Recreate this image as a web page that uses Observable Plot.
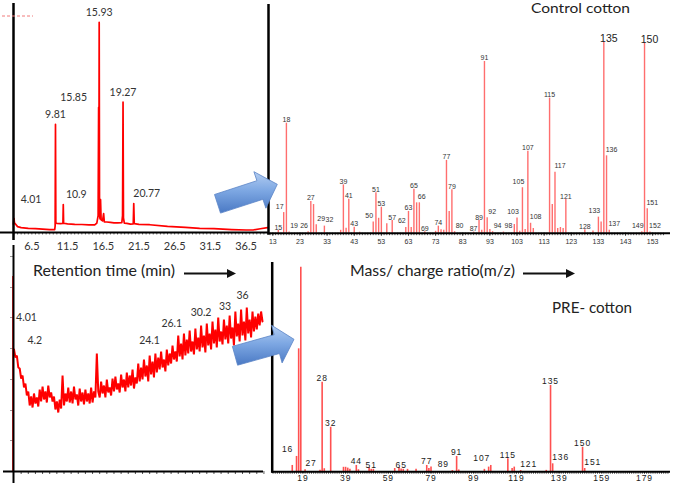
<!DOCTYPE html>
<html>
<head>
<meta charset="utf-8">
<script src="https://cdn.jsdelivr.net/npm/d3@7"></script>
<script src="https://cdn.jsdelivr.net/npm/@observablehq/plot@0.6"></script>
<style>
  body { margin: 0; background: #fff; }
  #wrap { position: relative; width: 685px; height: 487px; overflow: hidden; background: #fff; }
</style>
</head>
<body>
<div id="wrap"></div>
<script>
// ================= DATA =================
// Control cotton – chromatogram (retention time in min, relative abundance %)
const controlTraceTime = [3.93,3.97,4.01,4.06,4.5,5,6,7,8,9,9.7,9.76,9.81,9.86,10,10.5,10.85,10.9,10.95,11.5,12.5,13.5,14.5,15.3,15.6,15.78,15.85,15.89,15.93,15.98,16.05,16.12,16.2,16.4,16.55,16.65,17,17.5,18,18.5,19.1,19.2,19.27,19.33,19.45,19.8,20.3,20.7,20.77,20.84,21.5,23,25.5,28,30,32,34.5,36.5,37.5,38.5,39.5];
const controlTraceValue = [4.0,6.2,6.6,4.6,2.8,2.3,2.0,1.8,1.6,1.4,1.4,3.0,51.4,4.6,4.3,4.2,4.3,13.3,4.4,4.1,3.9,3.8,3.6,3.6,4.5,8.0,59.5,20.0,100,8.0,6.5,15.6,6.0,5.5,9.0,5.0,5.0,4.8,4.6,4.6,4.7,8.0,62.0,7.0,4.5,4.3,4.0,4.1,13.8,4.2,3.9,3.7,2.9,2.4,2.0,1.8,1.4,1.2,1.2,1.8,2.3];
const controlPeakTime = [4.01, 9.81, 10.9, 15.85, 15.93, 19.27, 20.77];
const controlPeakValue = [6.6, 51.4, 13.3, 59.5, 100, 62.0, 13.8];
const retentionTicks = [6.5, 11.5, 16.5, 21.5, 26.5, 31.5, 36.5];

// PRE-cotton – chromatogram (sampled every 0.2 min from 4.0 min, abundance)
const preTraceStart = 4.0;
const preTraceStep = 0.2;
const preTraceValue = [
  122,114,116,104,103,93,96,84,88,76,
  80,66,75,64,78,68,74,65,82,70,
  85,72,80,69,86,74,79,70,75,62,
  70,59,72,63,96,66,78,70,84,69,
  80,68,85,72,77,66,83,70,79,67,
  82,70,78,68,84,69,80,74,118,80,
  74,90,78,86,74,92,79,84,76,93,
  80,95,82,88,79,97,84,92,80,99,
  84,96,86,102,83,94,88,108,90,104,
  92,112,95,106,90,116,97,110,94,118,
  99,114,102,120,104,112,100,122,106,118,
  108,126,112,120,110,136,115,128,112,138,
  116,132,118,141,120,130,117,143,122,134,
  120,146,124,136,119,148,126,138,122,150,
  128,142,124,154,130,140,127,152,132,146,
  128,156,133,144,126,160,135,148,130,162,
  136,150,131,164,138,152,134,160,140,155,
  142,158,146,160,150
];
const preInjectionTime = [3.85];
const preInjectionValue = [204];
const preLabelTime = [4.01, 4.2, 24.1, 26.1, 30.2, 33, 36];
const preLabelValue = [153.5, 131, 131, 148, 159, 165, 176];

// Control cotton – mass spectrum (m/z, relative intensity %)
const controlMz = [15,17,18,19,26,27,28,29,32,38,39,40,41,43,45,50,51,52,53,55,57,62,63,64,65,66,67,69,73,74,75,76,77,78,79,80,87,89,90,91,92,93,94,98,102,103,104,105,106,107,108,109,115,116,117,118,119,120,121,128,131,133,134,135,136,137,149,150,151,152];
const controlInt = [1.4,10.8,57.6,0.6,0.8,16.6,15.0,4.4,3.7,1.5,25.3,2.6,17.8,3.1,0.5,5.8,21.2,7.8,13.6,5.0,6.6,3.0,11.4,3.0,23.0,15.9,15.9,0.8,1.0,3.7,1.8,1.5,38.1,11.4,22.7,0.8,0.6,6.6,1.5,89.9,8.1,2.0,0.8,0.6,4.6,7.9,1.0,23.8,2.0,42.9,5.2,2.5,70.7,15.0,31.9,2.5,3.0,2.5,17.6,1.8,1.2,8.4,5.8,100,40.5,1.5,0.8,99.5,12.8,0.6];
const controlLabelMz = [15,18,27,39,41,43,51,53,57,63,65,69,74,77,79,87,89,91,107,115,121,128];
const controlLabelMzLeft = [17,26,50,62,103,105,133,149];
const controlLabelMzRight = [19,29,32,66,80,92,94,98,108,117,136,137,151,152];
const controlLabelMzMajor = [135,150];
const controlTicks = [13,23,33,43,53,63,73,83,93,103,113,123,133,143,153];

// PRE-cotton – mass spectrum
const preMz = [14,16,17,18,20,27,28,29,32,38,39,40,41,44,45,50,51,52,62,64,65,66,68,72,77,78,79,89,91,92,104,106,107,115,117,118,121,133,135,136,150,151];
const preInt = [3.1,7.5,60.1,100,1.0,0.8,43.8,1.5,21.8,2.2,2.2,1.8,1.3,3.1,1.0,2.1,1.2,1.2,1.6,2.1,1.4,1.2,1.2,1.2,3.1,1.6,2.3,0.6,7.5,0.9,1.2,2.3,3.1,6.4,1.6,2.3,0.6,0.7,42.2,3.9,12.0,1.6];
const preLabelMz = [28,32,44,51,65,77,91,115,135,150];
const preLabelMzLeft = [16,27,89,107];
const preLabelMzRight = [121,136,151];
const preTicks = [19,39,59,79,99,119,139,159,179];

// ================= BUILD =================
const wrap = document.getElementById("wrap");
function place(svg, left, top, extra) {
  svg.style.position = "absolute";
  svg.style.left = left + "px";
  svg.style.top = top + "px";
  svg.style.background = "transparent";
  svg.style.overflow = "visible";
  svg.style.maxWidth = "none";
  if (extra) Object.assign(svg.style, extra);
  wrap.appendChild(svg);
}
const RED = "#ff0000";
const CHROM_FONT = "Lato, 'Open Sans', sans-serif";
const MS_FONT = "'Liberation Sans', Arial, sans-serif";

const controlTrace = controlTraceTime.map((t, i) => ({t, v: controlTraceValue[i]}));
const controlPeaks = controlPeakTime.map((t, i) => ({t, v: controlPeakValue[i], label: String(t)}));
const preTrace = preTraceValue.map((v, i) => ({t: preTraceStart + i * preTraceStep, v}));
const preLabels = preLabelTime.map((t, i) => ({t, v: preLabelValue[i], label: String(t)}));
const controlBars = controlMz.map((mz, i) => ({mz, v: controlInt[i]}));
const preBars = preMz.map((mz, i) => ({mz, v: preInt[i]}));
const cMap = new Map(controlBars.map(d => [d.mz, d.v]));
const pMap = new Map(preBars.map(d => [d.mz, d.v]));
const lab = (list, map) => list.map(mz => ({mz, v: map.get(mz), label: String(mz)}));

// ---- Top-left: control chromatogram ----
const pA = Plot.plot({
  width: 270, height: 255,
  marginLeft: 13, marginRight: 2, marginTop: 5, marginBottom: 23,
  x: {domain: [3.93, 39.64]},
  y: {domain: [0, 108], axis: null},
  marks: [
    Plot.axisX(d3.range(4, 39.6, 0.5), {tickSize: 2.5, tickFormat: () => "", stroke: "#666", label: null}),
    Plot.axisX(retentionTicks, {tickSize: 0, tickPadding: 10, fontSize: 11, fontFamily: CHROM_FONT, fill: "#333", label: null, tickFormat: d => String(d)}),
    Plot.line(controlTrace, {x: "t", y: "v", stroke: RED, strokeWidth: 1.7}),
    Plot.ruleY([0], {stroke: "black", strokeWidth: 2, insetLeft: -13}),
    Plot.ruleX([3.93], {stroke: "black", strokeWidth: 2.5, insetTop: -2, insetBottom: -8}),
    Plot.text(controlPeaks.filter(d => [9.81, 15.93, 19.27].includes(d.t)), {x: "t", y: "v", text: "label", dy: -10, fontSize: 10.5, fontFamily: CHROM_FONT, fill: "#333"}),
    Plot.text(controlPeaks.filter(d => [10.9, 20.77].includes(d.t)), {x: "t", y: "v", text: "label", dx: 13, dy: -10, fontSize: 10.5, fontFamily: CHROM_FONT, fill: "#333"}),
    Plot.text(controlPeaks.filter(d => d.t === 4.01), {x: "t", y: "v", text: "label", dx: 17, dy: -19, fontSize: 10.5, fontFamily: CHROM_FONT, fill: "#333"}),
    Plot.text(controlPeaks.filter(d => d.t === 15.85), {x: "t", y: "v", text: "label", dx: -25, dy: -10, fontSize: 10.5, fontFamily: CHROM_FONT, fill: "#333"})
  ]
});
place(pA, 0, 0);

// ---- Top-right: control mass spectrum ----
const msText = {fontFamily: MS_FONT, fontSize: 7, fill: "#333", lineAnchor: "bottom"};
const pB = Plot.plot({
  width: 420, height: 255,
  marginLeft: 3, marginRight: 19, marginTop: 5, marginBottom: 22.3,
  x: {domain: [11.4, 158.1]},
  y: {domain: [0, 119.2], axis: null},
  marks: [
    Plot.axisX(d3.range(12, 158, 1), {tickSize: 2.5, tickFormat: () => "", stroke: "#555", label: null}),
    Plot.axisX(controlTicks, {tickSize: 3, tickPadding: 2.5, fontSize: 7, fontFamily: MS_FONT, fill: "#333", stroke: "#333", label: null}),
    Plot.ruleX(controlBars, {x: "mz", y1: () => 0, y2: "v", stroke: "#ff6e6e", strokeWidth: 1.4}),
    Plot.ruleY([0], {stroke: "black", strokeWidth: 2, insetRight: -4}),
    Plot.ruleX([11.4], {stroke: "black", strokeWidth: 2.5, insetTop: -1, insetBottom: -2}),
    Plot.text(lab(controlLabelMz, cMap), {x: "mz", y: "v", text: "label", dy: -1, ...msText}),
    Plot.text(lab(controlLabelMzLeft, cMap), {x: "mz", y: "v", text: "label", dx: -4, dy: -4, ...msText}),
    Plot.text(lab(controlLabelMzRight, cMap), {x: "mz", y: "v", text: "label", dx: 5, dy: -4, ...msText}),
    Plot.text(lab(controlLabelMzMajor, cMap), {x: "mz", y: "v", text: "label", dx: 5, dy: 0, ...msText, fontSize: 10.5, fill: "#222"})
  ]
});
place(pB, 265, 0);

// ---- Bottom-left: PRE chromatogram ----
const pC = Plot.plot({
  width: 270, height: 237,
  marginLeft: 13, marginRight: 2, marginTop: 5, marginBottom: 16,
  x: {domain: [3.93, 39.64]},
  y: {domain: [0, 216], axis: null},
  marks: [
    Plot.axisX(d3.range(5, 39.6, 1), {tickSize: 3, tickFormat: () => "", stroke: "#555", label: null}),
    Plot.axisY([31, 61, 92, 123, 154, 184, 215], {anchor: "left", tickSize: 3, tickFormat: () => "", stroke: "#999", label: null}),
    Plot.ruleX(preInjectionTime.map((t, i) => ({t, v: preInjectionValue[i]})), {x: "t", y1: () => 0, y2: "v", stroke: RED, strokeWidth: 1.5, insetBottom: -9}),
    Plot.line(preTrace, {x: "t", y: "v", stroke: RED, strokeWidth: 2, strokeLinejoin: "miter"}),
    Plot.ruleY([0], {stroke: "black", strokeWidth: 2, insetLeft: -10, insetRight: 5}),
    Plot.ruleX([3.93], {stroke: "black", strokeWidth: 2, insetTop: -10, insetBottom: -12}),
    Plot.text(preLabels.filter(d => [26.1, 30.2, 36].includes(d.t)), {x: "t", y: "v", text: "label", fontSize: 10.5, fontFamily: CHROM_FONT, fill: "#333"}),
    Plot.text(preLabels.filter(d => d.t === 24.1), {x: "t", y: "v", text: "label", dx: -8, fontSize: 10.5, fontFamily: CHROM_FONT, fill: "#333"}),
    Plot.text(preLabels.filter(d => d.t === 33), {x: "t", y: "v", text: "label", dx: 4, fontSize: 10.5, fontFamily: CHROM_FONT, fill: "#333"}),
    Plot.text(preLabels.filter(d => d.t === 4.01), {x: "t", y: "v", text: "label", dx: 2, textAnchor: "start", fontSize: 10.5, fontFamily: CHROM_FONT, fill: "#333"}),
    Plot.text(preLabels.filter(d => d.t === 4.2), {x: "t", y: "v", text: "label", dx: 12, textAnchor: "start", fontSize: 10.5, fontFamily: CHROM_FONT, fill: "#333"})
  ]
});
place(pC, 0, 250);

// ---- Bottom-right: PRE mass spectrum ----
const preText = {fontFamily: MS_FONT, fontSize: 8.5, fill: "#1a1a1a", lineAnchor: "bottom"};
const pD = Plot.plot({
  width: 420, height: 237,
  marginLeft: 6.7, marginRight: 15, marginTop: 12, marginBottom: 15.7,
  x: {domain: [4.6, 191.2]},
  y: {domain: [0, 102.3], axis: null},
  marks: [
    Plot.axisX(d3.range(5, 191, 1), {tickSize: 2.5, tickFormat: () => "", stroke: "#555", label: null}),
    Plot.axisX(preTicks, {tickSize: 2, tickPadding: 1.5, fontSize: 8.5, fontFamily: MS_FONT, fill: "#1a1a1a", stroke: "#333", label: null}),
    Plot.ruleX(preBars, {x: "mz", y1: () => 0, y2: "v", stroke: "#ff5050", strokeWidth: 1.6}),
    Plot.ruleY([0], {stroke: "black", strokeWidth: 2}),
    Plot.ruleX([4.6], {stroke: "black", strokeWidth: 2.5, insetBottom: -1.5}),
    Plot.text(lab(preLabelMz, pMap), {x: "mz", y: "v", text: "label", dy: -1, ...preText}),
    Plot.text(lab(preLabelMzLeft, pMap), {x: "mz", y: "v", text: "label", dx: -9, dy: -4, ...preText}),
    Plot.text(lab(preLabelMzRight, pMap), {x: "mz", y: "v", text: "label", dx: 8, dy: -4, ...preText})
  ]
});
place(pD, 265, 250, {letterSpacing: "0.9px"});

// ---- Overlay: titles, axis captions, arrows ----
const ov = d3.create("svg").attr("width", 685).attr("height", 487)
  .style("position", "absolute").style("left", "0px").style("top", "0px").style("overflow", "visible");
const defs = ov.append("defs");
const grad = defs.append("linearGradient").attr("id", "blueGrad").attr("x1", 0).attr("y1", 0).attr("x2", 0).attr("y2", 1);
grad.append("stop").attr("offset", "0%").attr("stop-color", "#b3cdf1");
grad.append("stop").attr("offset", "45%").attr("stop-color", "#7ea8e3");
grad.append("stop").attr("offset", "100%").attr("stop-color", "#4a79c4");

function blockArrow(tail, tip, shaftHalf, headHalf, headLen) {
  const dx = tip[0] - tail[0], dy = tip[1] - tail[1], L = Math.hypot(dx, dy);
  const ux = dx / L, uy = dy / L, nx = -uy, ny = ux;
  const hb = [tip[0] - ux * headLen, tip[1] - uy * headLen];
  const p = (b, n) => [b[0] + nx * n, b[1] + ny * n];
  const pts = [p(tail, -shaftHalf), p(hb, -shaftHalf), p(hb, -headHalf), tip, p(hb, headHalf), p(hb, shaftHalf), p(tail, shaftHalf)];
  return "M" + pts.map(q => q[0].toFixed(1) + "," + q[1].toFixed(1)).join("L") + "Z";
}
ov.append("path").attr("d", blockArrow([217.5, 203.8], [277.3, 184.3], 9.8, 19.2, 18.3))
  .attr("fill", "url(#blueGrad)").attr("stroke", "#5a84c6").attr("stroke-width", 0.8);
ov.append("path").attr("d", blockArrow([235, 355.8], [294, 339.3], 9.8, 19.5, 17.8))
  .attr("fill", "url(#blueGrad)").attr("stroke", "#5a84c6").attr("stroke-width", 0.8);

// faint red marks at top-left of the chromatogram
ov.append("line").attr("x1", 2).attr("x2", 33).attr("y1", 16).attr("y2", 16)
  .attr("stroke", "#f07a7a").attr("stroke-width", 1).attr("stroke-dasharray", "3,2");

function txt(s, x, y, size, len) {
  ov.append("text").attr("x", x).attr("y", y).attr("font-family", CHROM_FONT)
    .attr("font-size", size).attr("fill", "#222").attr("textLength", len)
    .attr("lengthAdjust", "spacingAndGlyphs").text(s);
}
txt("Control cotton", 531, 13, 14, 99);
txt("Retention time (min)", 33, 276, 15, 142);
txt("Mass/ charge ratio(m/z)", 350, 276, 15, 165);
txt("PRE- cotton", 552, 313, 16, 80);

function blackArrow(x1, x2, y) {
  ov.append("line").attr("x1", x1).attr("x2", x2 - 7).attr("y1", y).attr("y2", y)
    .attr("stroke", "#111").attr("stroke-width", 2);
  ov.append("path").attr("d", `M${x2},${y}L${x2 - 9},${y - 4.5}L${x2 - 9},${y + 4.5}Z`).attr("fill", "#111");
}
blackArrow(184, 236, 273.5);
blackArrow(523, 575, 273.5);

wrap.appendChild(ov.node());
</script>
</body>
</html>
